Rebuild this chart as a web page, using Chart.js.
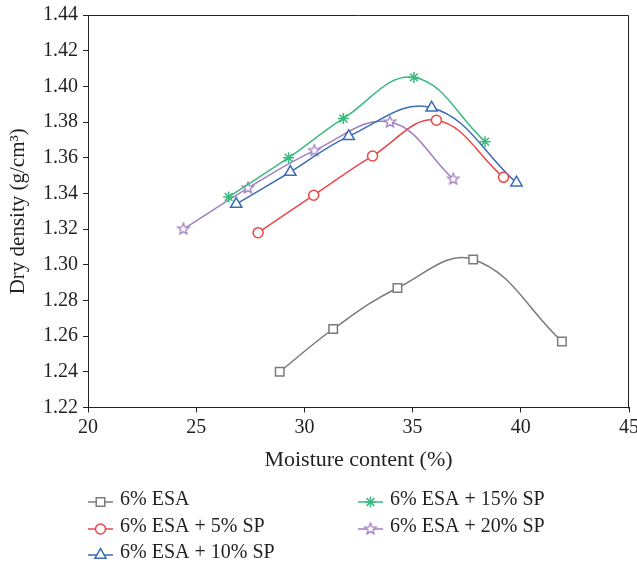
<!DOCTYPE html>
<html>
<head>
<meta charset="utf-8">
<script src="https://cdn.jsdelivr.net/npm/chart.js@4.4.1/dist/chart.umd.min.js"></script>
<style>
  html, body { margin: 0; padding: 0; background: #ffffff; }
  #wrap { width: 637px; height: 566px; }
</style>
</head>
<body>
<div id="wrap"><canvas id="chart" width="637" height="566"></canvas></div>
<script>
// Compaction curves: moisture content (%) vs dry density (g/cm3)
const seriesNames = ['6% ESA', '6% ESA + 5% SP', '6% ESA + 10% SP', '6% ESA + 15% SP', '6% ESA + 20% SP'];

const moistureESA   = [28.86, 31.33, 34.30, 37.80, 41.90];
const densityESA    = [1.240, 1.264, 1.287, 1.303, 1.257];

const moistureSP5   = [27.86, 30.43, 33.15, 36.10, 39.20];
const densitySP5    = [1.318, 1.339, 1.361, 1.381, 1.349];

const moistureSP10  = [26.85, 29.35, 32.05, 35.88, 39.80];
const densitySP10   = [1.334, 1.352, 1.372, 1.388, 1.346];

const moistureSP15  = [26.50, 29.27, 31.80, 35.06, 38.35];
const densitySP15   = [1.338, 1.360, 1.382, 1.405, 1.369];

const moistureSP20  = [24.41, 27.39, 30.46, 33.95, 36.88];
const densitySP20   = [1.320, 1.343, 1.364, 1.380, 1.348];

const xTicks = [20, 25, 30, 35, 40, 45];
const yTicks = [1.22, 1.24, 1.26, 1.28, 1.30, 1.32, 1.34, 1.36, 1.38, 1.40, 1.42, 1.44];

const FONT = "'Liberation Serif', 'Times New Roman', serif";
const colors = ['#7a7a7a', '#e84848', '#3a6db5', '#3cb97f', '#a07fc3'];

// Open five-pointed star marker
function makeStar(color, outer, inner) {
  const size = Math.ceil(outer * 2 + 4);
  const cv = document.createElement('canvas');
  cv.width = size; cv.height = size;
  const g = cv.getContext('2d');
  const c = size / 2;
  g.beginPath();
  for (let i = 0; i < 10; i++) {
    const r = i % 2 === 0 ? outer : inner;
    const a = -Math.PI / 2 + i * Math.PI / 5;
    const px = c + r * Math.cos(a), py = c + r * Math.sin(a);
    if (i === 0) g.moveTo(px, py); else g.lineTo(px, py);
  }
  g.closePath();
  g.fillStyle = '#ffffff';
  g.fill();
  g.strokeStyle = color;
  g.lineWidth = 1.3;
  g.stroke();
  return cv;
}
const starImg = makeStar(colors[4], 6, 2.6);

const pointStyles = ['rect', 'circle', 'triangle', 'star', starImg];
const pointRadii  = [6, 5, 6.5, 5.5, 6];

function pairs(xs, ys) { return xs.map((x, i) => ({ x: x, y: ys[i] })); }

const allX = [moistureESA, moistureSP5, moistureSP10, moistureSP15, moistureSP20];
const allY = [densityESA, densitySP5, densitySP10, densitySP15, densitySP20];

const datasets = seriesNames.map((name, i) => ({
  label: name,
  data: pairs(allX[i], allY[i]),
  borderColor: colors[i],
  backgroundColor: '#ffffff',
  borderWidth: 1.5,
  tension: 0.4,
  pointStyle: pointStyles[i],
  pointRadius: pointRadii[i],
  pointHoverRadius: pointRadii[i],
  pointBorderColor: colors[i],
  pointBackgroundColor: '#ffffff',
  pointBorderWidth: 1.5,
  fill: false
}));

// Frame around the plot area plus a two-column legend underneath
const frameLegend = {
  id: 'frameLegend',
  afterDraw(chart) {
    const ctx = chart.ctx;
    const a = chart.chartArea;
    ctx.save();
    ctx.strokeStyle = '#222222';
    ctx.lineWidth = 1;
    ctx.beginPath();
    ctx.moveTo(Math.round(a.left) + 0.5, Math.round(a.top) + 0.5);
    ctx.lineTo(Math.round(a.right) - 0.5, Math.round(a.top) + 0.5);
    ctx.lineTo(Math.round(a.right) - 0.5, Math.round(a.bottom) + 0.5);
    ctx.stroke();

    const slots = [
      { x: 88, y: 500 }, { x: 88, y: 527 }, { x: 88, y: 553 },
      { x: 358, y: 500 }, { x: 358, y: 527 }
    ];
    ctx.font = '20px ' + FONT;
    ctx.textBaseline = 'middle';
    ctx.textAlign = 'left';
    chart.data.datasets.forEach((ds, i) => {
      const s = slots[i];
      const ly = s.y + 2;
      ctx.strokeStyle = ds.borderColor;
      ctx.lineWidth = 1.5;
      ctx.beginPath();
      ctx.moveTo(s.x, ly);
      ctx.lineTo(s.x + 25, ly);
      ctx.stroke();
      ctx.fillStyle = '#ffffff';
      ctx.strokeStyle = ds.borderColor;
      ctx.lineWidth = 1.5;
      Chart.helpers.drawPoint(ctx, {
        pointStyle: ds.pointStyle, radius: ds.pointRadius, rotation: 0, borderWidth: 1.5
      }, s.x + 12.5, ly);
      ctx.fillStyle = '#231f20';
      ctx.fillText(ds.label, s.x + 32, s.y);
    });
    ctx.restore();
  }
};

new Chart(document.getElementById('chart'), {
  type: 'line',
  data: { datasets: datasets },
  plugins: [frameLegend],
  options: {
    responsive: false,
    animation: false,
    devicePixelRatio: 1,
    layout: { autoPadding: false, padding: { top: 15, right: 8, bottom: 88.5, left: 0 } },
    plugins: { legend: { display: false }, tooltip: { enabled: false } },
    scales: {
      x: {
        type: 'linear',
        min: xTicks[0],
        max: xTicks[xTicks.length - 1],
        afterFit(scale) { scale.height = 70; scale.paddingLeft = 0; scale.paddingRight = 0; },
        afterBuildTicks(scale) { scale.ticks = xTicks.map(v => ({ value: v })); },
        ticks: { font: { family: FONT, size: 20 }, color: '#231f20', padding: 3 },
        grid: { display: true, drawOnChartArea: false, drawTicks: true, tickLength: 5, color: '#222222' },
        border: { display: true, color: '#222222', width: 1 },
        title: {
          display: true, text: 'Moisture content (%)',
          font: { family: FONT, size: 22 }, color: '#231f20',
          padding: { top: 0, bottom: 4 }
        }
      },
      y: {
        min: yTicks[0],
        max: yTicks[yTicks.length - 1],
        afterFit(scale) { scale.width = 88; scale.paddingTop = 0; scale.paddingBottom = 0; },
        afterBuildTicks(scale) { scale.ticks = yTicks.map(v => ({ value: v })); },
        ticks: {
          font: { family: FONT, size: 20 }, color: '#231f20', padding: 5,
          callback: v => Number(v).toFixed(2)
        },
        grid: { display: true, drawOnChartArea: false, drawTicks: true, tickLength: 5, color: '#222222' },
        border: { display: true, color: '#222222', width: 1 },
        title: {
          display: true, text: 'Dry density (g/cm\u00B3)',
          font: { family: FONT, size: 21 }, color: '#231f20',
          padding: { top: 6, bottom: 0 }
        }
      }
    }
  }
});
</script>
</body>
</html>
